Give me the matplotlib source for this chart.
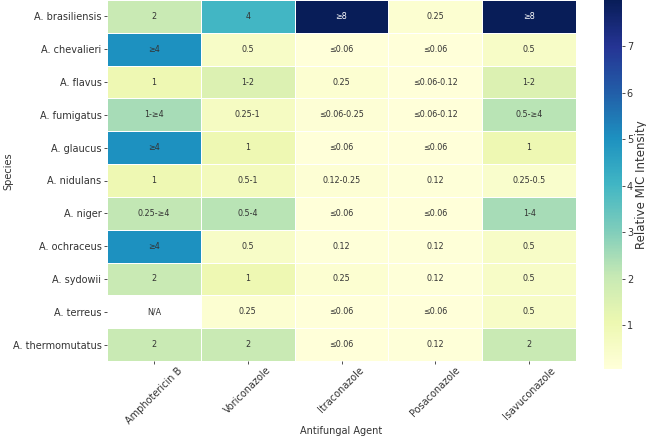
"""
Antifungal MIC heatmap - Aspergillus species vs antifungal agents
"""
import numpy as np
import matplotlib
matplotlib.use("Agg")
import matplotlib.pyplot as plt
from matplotlib.colors import Normalize

species = [
    "A. brasiliensis", "A. chevalieri", "A. flavus", "A. fumigatus",
    "A. glaucus", "A. nidulans", "A. niger", "A. ochraceus",
    "A. sydowii", "A. terreus", "A. thermomutatus",
]
agents = ["Amphotericin B", "Voriconazole", "Itraconazole", "Posaconazole", "Isavuconazole"]

# MIC labels as printed in the cells
mic_labels = [
    ["2", "4", "≥8", "0.25", "≥8"],
    ["≥4", "0.5", "≤0.06", "≤0.06", "0.5"],
    ["1", "1-2", "0.25", "≤0.06-0.12", "1-2"],
    ["1-≥4", "0.25-1", "≤0.06-0.25", "≤0.06-0.12", "0.5-≥4"],
    ["≥4", "1", "≤0.06", "≤0.06", "1"],
    ["1", "0.5-1", "0.12-0.25", "0.12", "0.25-0.5"],
    ["0.25-≥4", "0.5-4", "≤0.06", "≤0.06", "1-4"],
    ["≥4", "0.5", "0.12", "0.12", "0.5"],
    ["2", "1", "0.25", "0.12", "0.5"],
    ["N/A", "0.25", "≤0.06", "≤0.06", "0.5"],
    ["2", "2", "≤0.06", "0.12", "2"],
]

# numeric intensity used for colouring (range midpoints, >=4 -> 5)
intensity = np.array([
    [2.0, 4.0, 8.0, 0.25, 8.0],
    [5.0, 0.5, 0.06, 0.06, 0.5],
    [1.0, 1.5, 0.25, 0.09, 1.5],
    [2.5, 0.625, 0.155, 0.09, 2.25],
    [5.0, 1.0, 0.06, 0.06, 1.0],
    [1.0, 0.75, 0.185, 0.12, 0.375],
    [2.125, 2.25, 0.06, 0.06, 2.5],
    [5.0, 0.5, 0.12, 0.12, 0.5],
    [2.0, 1.0, 0.25, 0.12, 0.5],
    [np.nan, 0.25, 0.06, 0.06, 0.5],
    [2.0, 2.0, 0.06, 0.12, 2.0],
])

text_col = "#333333"
fig = plt.figure(figsize=(6.46, 4.38), dpi=100)
ax = fig.add_axes([107 / 646, 77 / 438, 469 / 646, 361 / 438])
cax = fig.add_axes([604 / 646, 69 / 438, 18 / 646, 369 / 438])

cmap = plt.get_cmap("YlGnBu")
norm = Normalize(vmin=np.nanmin(intensity), vmax=np.nanmax(intensity))
data = np.ma.masked_invalid(intensity)
mesh = ax.pcolormesh(data, cmap=cmap, norm=norm, edgecolors="white", linewidth=0.6)
ax.set_xlim(0, len(agents))
ax.set_ylim(len(species), 0)

for i in range(len(species)):
    for j in range(len(agents)):
        v = intensity[i, j]
        if np.isnan(v):
            color = text_col
        else:
            r, g, b = cmap(norm(v))[:3]
            lum = 0.2126 * r + 0.7152 * g + 0.0722 * b
            color = text_col if lum > 0.408 else "white"
        ax.text(j + 0.5, i + 0.5, mic_labels[i][j], ha="center", va="center",
                fontsize=5.8, color=color)

ax.set_xticks(np.arange(len(agents)) + 0.5)
ax.set_xticklabels(agents, rotation=45, ha="center")
ax.set_yticks(np.arange(len(species)) + 0.5)
ax.set_yticklabels(species)
ax.tick_params(axis="both", labelsize=7, length=2.5, width=0.6, pad=1.5, colors=text_col)
ax.tick_params(axis="x", pad=0.5)
for s in ax.spines.values():
    s.set_visible(False)
ax.set_xlabel("Antifungal Agent", fontsize=7, color=text_col, labelpad=0)
ax.set_ylabel("Species", fontsize=7, color=text_col)
ax.yaxis.set_label_coords(-0.2, 0.525)

cb = fig.colorbar(mesh, cax=cax)
cb.set_ticks([1, 2, 3, 4, 5, 6, 7])
cb.outline.set_visible(False)
cb.ax.tick_params(labelsize=7, length=2, width=0.6, pad=1.5, colors=text_col)
cb.set_label("Relative MIC Intensity", fontsize=8.5, color=text_col, labelpad=1)

plt.savefig("out.png", dpi=100)
plt.close()
